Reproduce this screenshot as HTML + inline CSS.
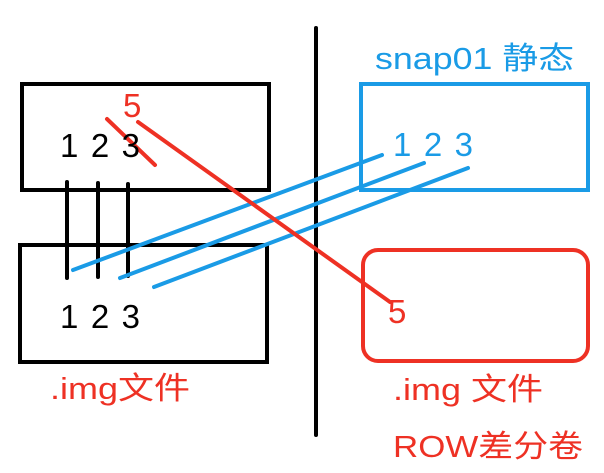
<!DOCTYPE html>
<html><head><meta charset="utf-8"><style>
html,body{margin:0;padding:0;background:#fff;width:604px;height:473px;overflow:hidden}
svg{display:block}
text{font-family:"Liberation Sans","Noto Sans CJK SC",sans-serif}
</style></head><body>
<svg width="604" height="473" viewBox="0 0 604 473" xmlns="http://www.w3.org/2000/svg">
<g fill="none" stroke-width="4">
<rect x="22" y="84" width="247" height="106" stroke="#000"/>
<rect x="20" y="245" width="247" height="117" stroke="#000"/>
<rect x="361" y="84" width="227" height="106" stroke="#1a9be6"/>
<rect x="363" y="250" width="225" height="111" rx="15" stroke="#ee3124"/>
</g>
<g stroke="#000" stroke-width="4" stroke-linecap="round">
<line x1="316" y1="28" x2="316" y2="435"/>
<line x1="67" y1="182" x2="67" y2="278"/>
<line x1="98" y1="183" x2="98" y2="277"/>
<line x1="128" y1="184" x2="128" y2="276"/>
</g>
<g stroke="#1a9be6" stroke-width="4" stroke-linecap="round">
<line x1="73" y1="270" x2="382" y2="155"/>
<line x1="120" y1="278" x2="424" y2="163"/>
<line x1="154" y1="287" x2="468" y2="168"/>
</g>
<g stroke="#ee3124" stroke-width="4" stroke-linecap="round">
<line x1="138" y1="122" x2="390" y2="302"/>
<line x1="107" y1="119" x2="155" y2="165"/>
</g>
<g font-size="33">
<text x="60" y="157" fill="#000" textLength="80" lengthAdjust="spacing">1 2 3</text>
<text x="60" y="328" fill="#000" textLength="80" lengthAdjust="spacing">1 2 3</text>
<text x="123" y="117" fill="#ee3124">5</text>
<text x="393" y="156" fill="#1a9be6" textLength="80" lengthAdjust="spacing">1 2 3</text>
<text x="388" y="323" fill="#ee3124">5</text>
<text x="375" y="69" fill="#1a9be6" font-size="31" textLength="199" lengthAdjust="spacingAndGlyphs">snap01 静态</text>
<text x="50" y="399" fill="#ee3124" font-size="31" textLength="140" lengthAdjust="spacingAndGlyphs">.img文件</text>
<text x="393" y="400" fill="#ee3124" font-size="31" textLength="150" lengthAdjust="spacingAndGlyphs">.img 文件</text>
<text x="393" y="457" fill="#ee3124" font-size="31" textLength="190" lengthAdjust="spacingAndGlyphs">ROW差分卷</text>
</g>
</svg>
</body></html>
